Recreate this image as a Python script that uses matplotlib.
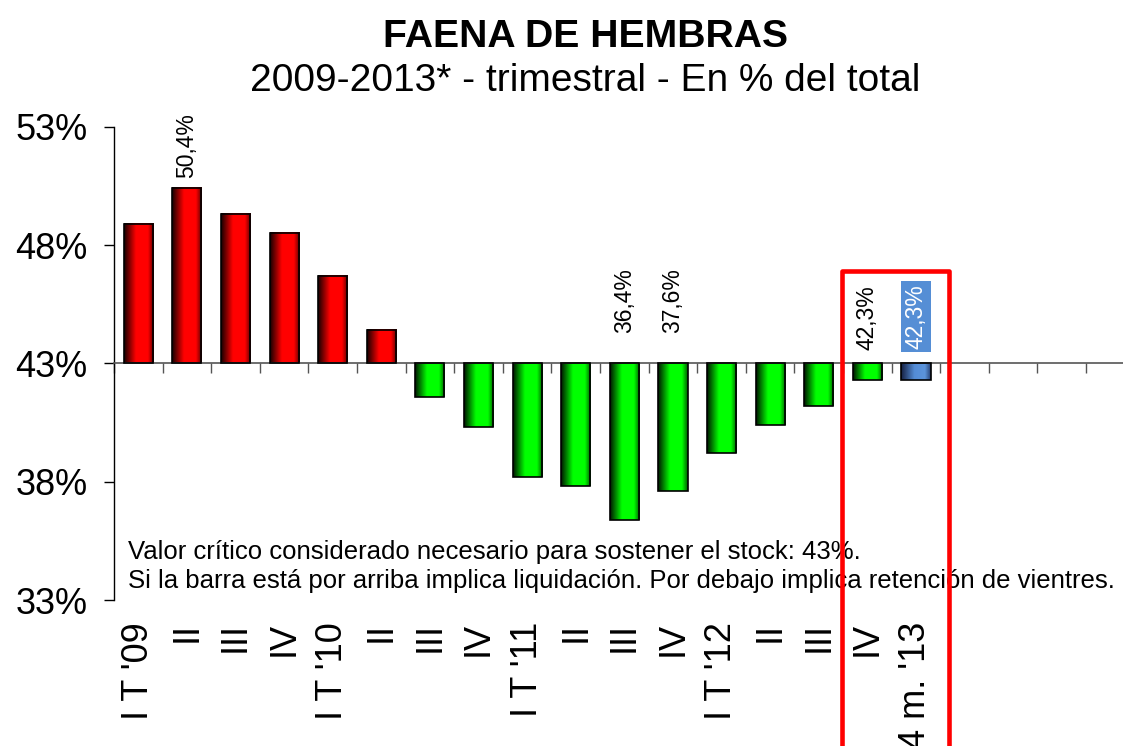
import numpy as np
import matplotlib.pyplot as plt
from matplotlib.colors import LinearSegmentedColormap
from matplotlib.patches import Rectangle

plt.rcParams['font.family'] = ['Liberation Sans', 'DejaVu Sans']

# datos: faena de hembras, % del total (trimestral)
categorias = ["I T '09", "II", "III", "IV", "I T '10", "II", "III", "IV",
              "I T '11", "II", "III", "IV", "I T '12", "II", "III", "IV", "4 m. '13"]
valores = [48.9, 50.4, 49.3, 48.5, 46.7, 44.4, 41.6, 40.3,
           38.2, 37.8, 36.4, 37.6, 39.2, 40.4, 41.2, 42.3, 42.3]
critico = 43.0
n_slots = 21
y_ticks = [33, 38, 43, 48, 53]
etiquetas = {1: "50,4%", 10: "36,4%", 11: "37,6%", 15: "42,3%", 16: "42,3%"}

cm_rojo = LinearSegmentedColormap.from_list(
    'rojo', [(0, (0.08, 0, 0)), (0.4, (1, 0, 0)), (0.8, (1, 0, 0)), (1, (0.35, 0, 0))])
cm_verde = LinearSegmentedColormap.from_list(
    'verde', [(0, (0, 0.08, 0)), (0.4, (0, 1, 0)), (0.8, (0, 1, 0)), (1, (0, 0.35, 0))])
cm_azul = LinearSegmentedColormap.from_list(
    'azul', [(0, (0.08, 0.12, 0.25)), (0.45, (0.33, 0.55, 0.84)), (0.8, (0.36, 0.58, 0.86)), (1, (0.15, 0.25, 0.45))])

fig = plt.figure(figsize=(11.23, 7.46), dpi=100)
ax = fig.add_axes([0.1015, 0.1957, 0.8985, 0.6341])

x = np.arange(len(valores))
alturas = np.array(valores) - critico
bars = ax.bar(x, alturas, bottom=critico, width=0.6, facecolor='none',
              edgecolor='black', linewidth=1.2, zorder=3)

grad = np.linspace(0, 1, 256).reshape(1, -1)
for i, b in enumerate(bars):
    if i == len(bars) - 1:
        cm = cm_azul
    elif valores[i] >= critico:
        cm = cm_rojo
    else:
        cm = cm_verde
    x0, y0 = b.get_x(), b.get_y()
    w, h = b.get_width(), b.get_height()
    ax.imshow(grad, extent=(x0, x0 + w, min(y0, y0 + h), max(y0, y0 + h)),
              aspect='auto', cmap=cm, zorder=2, interpolation='bilinear')

# ejes
for s in ['top', 'right']:
    ax.spines[s].set_visible(False)
ax.spines['bottom'].set_position(('data', critico))
ax.spines['bottom'].set_color('#555555')
ax.spines['bottom'].set_linewidth(1.2)
ax.spines['left'].set_linewidth(1.0)
ax.set_yticks(y_ticks)
ax.set_yticklabels([f"{v}%" for v in y_ticks])
ax.tick_params(axis='y', direction='out', length=7, width=1, pad=12, labelsize=26)
ax.set_xticks(np.arange(n_slots) - 0.5)
ax.set_xticklabels([])
ax.tick_params(axis='x', direction='out', length=7, width=1, color='#555555')

sec = ax.secondary_xaxis(0)
sec.set_xticks(x)
sec.set_xticklabels(categorias, rotation=90, fontsize=26)
sec.tick_params(length=0, pad=16)
sec.spines['bottom'].set_visible(False)

ax.set_xlim(-0.5, 20.26)
ax.set_ylim(33, 53)

# etiquetas de valores
for i, txt in etiquetas.items():
    if i == 1:
        ax.text(i, valores[i] + 0.45, txt, rotation=90, ha='center', va='bottom', fontsize=16.5)
    elif i == 16:
        ax.text(i, critico + 0.62, txt, rotation=90, ha='center', va='bottom', fontsize=16.5,
                color='white', bbox=dict(boxstyle='square,pad=0.15', fc='#558ED5', ec='none'))
    elif i == 15:
        ax.text(i, critico + 0.55, txt, rotation=90, ha='center', va='bottom', fontsize=16.5)
    else:
        ax.text(i, critico + 1.3, txt, rotation=90, ha='center', va='bottom', fontsize=16.5)

ax.text(0.014, 0.127,
        "Valor crítico considerado necesario para sostener el stock: 43%.\n"
        "Si la barra está por arriba implica liquidación. Por debajo implica retención de vientres.",
        transform=ax.transAxes, ha='left', va='top', fontsize=18.5, linespacing=1.25, zorder=4)

# recuadro rojo
rect = Rectangle((14.47, 20), 16.69 - 14.47, 46.92 - 20, fill=False, edgecolor='#ff0000',
                 linewidth=3.3, joinstyle='round', clip_on=False, zorder=6)
ax.add_patch(rect)

fig.text(0.521, 0.951, "FAENA DE HEMBRAS", ha='center', va='center', fontsize=28.2, fontweight='bold')
fig.text(0.521, 0.892, "2009-2013* - trimestral - En % del total", ha='center', va='center', fontsize=28)

fig.savefig('out.png', dpi=100)
